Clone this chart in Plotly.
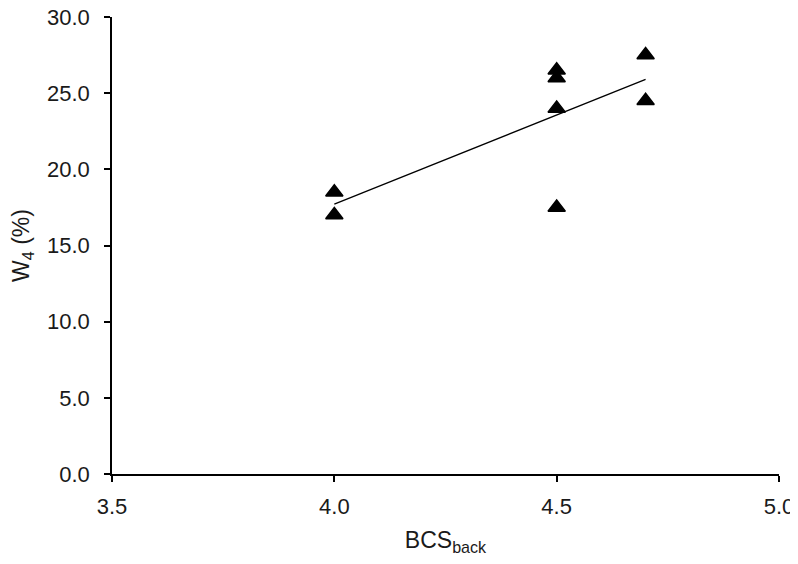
import numpy as np
import plotly.graph_objects as go

# BCS (back) vs W4 (%)
bcs_back = [4.0, 4.0, 4.5, 4.5, 4.5, 4.5, 4.7, 4.7]
w4 = [18.5, 17.0, 26.5, 26.0, 24.0, 17.5, 27.5, 24.5]

x_ticks = [3.5, 4.0, 4.5, 5.0]
y_ticks = [0, 5, 10, 15, 20, 25, 30]

# linear trend line over the observed range
slope, intercept = np.polyfit(bcs_back, w4, 1)
fit_x = [min(bcs_back), max(bcs_back)]
fit_y = [slope * v + intercept for v in fit_x]

fig = go.Figure()

fig.add_trace(go.Scatter(
    x=fit_x, y=fit_y, mode='lines',
    line=dict(color='black', width=1.3),
    showlegend=False
))

fig.add_trace(go.Scatter(
    x=bcs_back, y=w4, mode='markers',
    marker=dict(symbol='triangle-up', size=15, color='black',
                line=dict(color='black', width=1.5)),
    showlegend=False
))

axis_font = dict(family='Liberation Sans, Arial, sans-serif', size=22, color='#1a1a1a')

fig.update_layout(
    # page body adds an 8px margin, figure sized so nothing scrolls
    width=790, height=548,
    margin=dict(l=104, r=19, t=9, b=82),
    paper_bgcolor='white',
    plot_bgcolor='white',
    font=axis_font,
    xaxis=dict(
        range=[3.5, 5.0], tickvals=x_ticks, tickformat='.1f',
        showgrid=False, zeroline=False, automargin=False,
        showline=True, linecolor='black', linewidth=1.5,
        ticks='outside', ticklen=6, tickcolor='black', tickwidth=1.5,
        ticklabelstandoff=6, ticklabeloverflow='allow',
        title=dict(text='BCS<sub>back</sub>', standoff=20, font=dict(size=23)),
        tickfont=axis_font
    ),
    yaxis=dict(
        range=[0, 30], tickvals=y_ticks, tickformat='.1f',
        showgrid=False, zeroline=False, automargin=False,
        showline=True, linecolor='black', linewidth=1.5,
        ticks='outside', ticklen=6, tickcolor='black', tickwidth=1.5,
        ticklabelstandoff=10, ticklabeloverflow='allow',
        title=dict(text='W<sub>4</sub> (%)', standoff=32, font=dict(size=23)),
        tickfont=axis_font
    )
)

fig.write_html("out.html")
